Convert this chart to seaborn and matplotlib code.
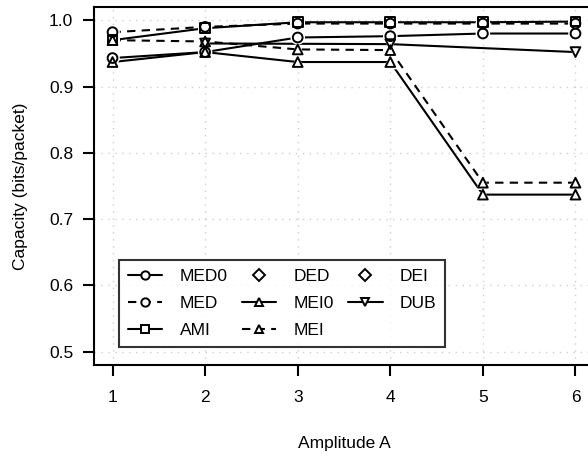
import numpy as np
import pandas as pd
import matplotlib
matplotlib.use("Agg")
import matplotlib.pyplot as plt
from matplotlib.lines import Line2D
import seaborn as sns

# Capacity against amplitude for each estimator
amplitude = [1, 2, 3, 4, 5, 6]
series_names = ["MED0", "MED", "AMI", "DED", "MEI0", "MEI", "DEI", "DUB"]
med0 = [0.943, 0.952, 0.974, 0.976, 0.980, 0.980]
med = [0.982, 0.990, 0.995, 0.995, 0.995, 0.995]
ami = [0.970, 0.988, 0.997, 0.997, 0.997, 0.998]
ded = [np.nan] * 6
mei0 = [0.937, 0.952, 0.937, 0.937, 0.737, 0.737]
mei = [0.970, 0.968, 0.956, 0.955, 0.755, 0.755]
dei = [np.nan] * 6
dub = [np.nan, 0.965, np.nan, 0.964, np.nan, 0.952]

values = dict(MED0=med0, MED=med, AMI=ami, DED=ded,
              MEI0=mei0, MEI=mei, DEI=dei, DUB=dub)

styles = {
    "MED0": dict(marker="o", line="-"),
    "MED": dict(marker="o", line="--"),
    "AMI": dict(marker="s", line="-"),
    "DED": dict(marker="D", line=None),
    "MEI0": dict(marker="^", line="-"),
    "MEI": dict(marker="^", line="--"),
    "DEI": dict(marker="D", line=None),
    "DUB": dict(marker="v", line="-"),
}

sns.set_theme(style="white")
plt.rcParams["font.family"] = ["Liberation Sans", "DejaVu Sans"]
plt.rcParams["text.color"] = "black"
plt.rcParams["axes.labelcolor"] = "black"
plt.rcParams["xtick.color"] = "black"
plt.rcParams["ytick.color"] = "black"

fig = plt.figure(figsize=(5.88, 4.57), dpi=100)
ax = fig.add_axes([94 / 588, 1 - 365 / 457, 500 / 588, 358 / 457])

lw = 1.5
msize = 7.0
mew = 1.4
dash = (4, 3)

frames = {}
for name in series_names:
    df = pd.DataFrame({"A": amplitude, "cap": values[name]}).dropna()
    frames[name] = df

# connecting lines first
for name in series_names:
    df, st = frames[name], styles[name]
    if df.empty or st["line"] is None:
        continue
    sns.lineplot(data=df, x="A", y="cap", ax=ax, color="black",
                 linewidth=lw, legend=False, zorder=2)
    if st["line"] == "--":
        ax.lines[-1].set_dashes(dash)

# white halo behind each point, leaving a gap in the lines
for name in series_names:
    df, st = frames[name], styles[name]
    if df.empty:
        continue
    sns.scatterplot(data=df, x="A", y="cap", ax=ax, marker=st["marker"],
                    s=(msize + 3.5) ** 2, color="white", edgecolor="none",
                    linewidth=0, legend=False, zorder=3)

# open point symbols on top
for name in series_names:
    df, st = frames[name], styles[name]
    if df.empty:
        continue
    sns.scatterplot(data=df, x="A", y="cap", ax=ax, marker=st["marker"],
                    s=msize ** 2, facecolor="none", edgecolor="black",
                    linewidth=mew, legend=False, zorder=4)

ax.set_xlim(0.8, 6.2)
ax.set_ylim(0.48, 1.02)
ax.set_xticks(amplitude)
yt = [0.5, 0.6, 0.7, 0.8, 0.9, 1.0]
ax.set_yticks(yt)
ax.set_yticklabels([f"{v:.1f}" for v in yt])

ax.grid(True, color="#cfcfcf", linestyle=(0, (1, 4)), linewidth=1.0)
ax.set_axisbelow(True)

for sp in ax.spines.values():
    sp.set_visible(True)
    sp.set_color("black")
    sp.set_linewidth(1.5)

ax.tick_params(axis="both", which="major", direction="out", length=8,
               width=1.5, colors="black", labelsize=12.5, left=True,
               bottom=True)
ax.tick_params(axis="y", pad=7)
ax.tick_params(axis="x", pad=10)

ax.set_xlabel("Amplitude A", fontsize=12.5, labelpad=22, color="black")
ax.set_ylabel("Capacity (bits/packet)", fontsize=12.5, labelpad=15,
              color="black")

handles = []
for name in series_names:
    st = styles[name]
    if st["line"] is None:
        h = Line2D([], [], linestyle="none", marker=st["marker"], color="black",
                   markerfacecolor="none", markersize=6, markeredgewidth=mew)
    else:
        h = Line2D([], [], linestyle=st["line"], color="black", linewidth=lw,
                   marker=st["marker"], markerfacecolor="white",
                   markersize=6, markeredgewidth=mew)
        if st["line"] == "--":
            h.set_dashes(dash)
    handles.append(h)

leg = ax.legend(handles, series_names, ncol=3, loc="lower left",
                bbox_to_anchor=(25 / 500, 18 / 358), borderaxespad=0,
                fontsize=12.5, frameon=True, fancybox=False,
                edgecolor="black", handlelength=2.0, handletextpad=1.0,
                columnspacing=0.8, labelspacing=0.7, borderpad=0.5,
                labelcolor="black")
leg.get_frame().set_linewidth(1.5)

fig.savefig("out.png", dpi=100)
